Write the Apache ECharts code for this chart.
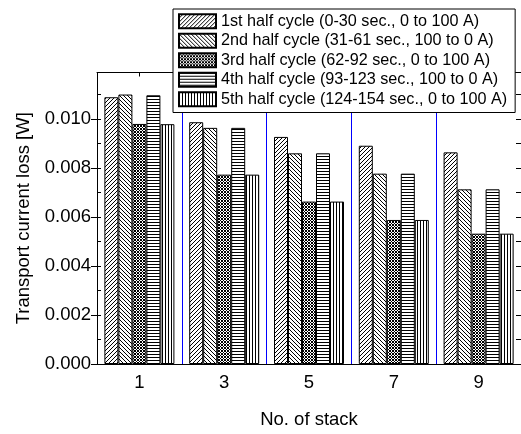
<!DOCTYPE html>
<html>
<head>
<meta charset="utf-8">
<script src="https://cdn.jsdelivr.net/npm/echarts@6/dist/echarts.min.js"></script>
<style>
html,body{margin:0;padding:0;background:#fff;}
#c{width:521px;height:434px;}
</style>
</head>
<body>
<div id="c"></div>
<script>
// ---- data ----
var categories = ['1', '3', '5', '7', '9'];
var seriesNames = [
  '1st half cycle (0-30 sec., 0 to 100 A)',
  '2nd half cycle (31-61 sec., 100 to 0 A)',
  '3rd half cycle (62-92 sec., 0 to 100 A)',
  '4th half cycle (93-123 sec., 100 to 0 A)',
  '5th half cycle (124-154 sec., 0 to 100 A)'
];
var half1 = [0.01089, 0.00987, 0.00927, 0.00891, 0.00864];
var half2 = [0.01100, 0.00964, 0.00860, 0.00777, 0.00713];
var half3 = [0.00980, 0.00773, 0.00663, 0.00588, 0.00532];
var half4 = [0.01097, 0.00964, 0.00860, 0.00777, 0.00713];
var half5 = [0.00979, 0.00773, 0.00663, 0.00588, 0.00532];
var yTicks = [0, 0.002, 0.004, 0.006, 0.008, 0.010];

// ---- hatch patterns ----
function tile(w, h, pts) {
  var c = document.createElement('canvas');
  c.width = w; c.height = h;
  var g = c.getContext('2d');
  g.fillStyle = '#fff'; g.fillRect(0, 0, w, h);
  g.fillStyle = '#000';
  pts.forEach(function (p) { g.fillRect(p[0], p[1], 1, 1); });
  return c;
}
var patFwd = tile(4, 4, [[0,3],[1,2],[2,1],[3,0]]);
var patBack = tile(4, 4, [[0,0],[1,1],[2,2],[3,3]]);
var patCross = tile(3, 3, [[0,0],[1,1],[2,2],[0,2],[2,0]]);
var patHor = tile(1, 3, [[0,0]]);
var patVer = tile(3, 1, [[0,0]]);
var patterns = [patFwd, patBack, patCross, patHor, patVer];
var data = [half1, half2, half3, half4, half5];

var FONT = 'Liberation Sans, Arial, sans-serif';
var chart = echarts.init(document.getElementById('c'), null, {renderer: 'canvas'});

var series = data.map(function (d, i) {
  return {
    name: seriesNames[i], type: 'bar', data: d, barWidth: 14, barGap: '0%',
    itemStyle: {color: {image: patterns[i], repeat: 'repeat'}, borderColor: '#000', borderWidth: 1}
  };
});

var yMin = 0, yMax = 0.0119;
chart.setOption({
  animation: false,
  backgroundColor: '#fff',
  grid: {left: 97, right: -2, top: 72.5, bottom: 64, containLabel: false},
  legend: {
    orient: 'vertical', left: 173, top: 9, padding: [4, 8, 5, 5],
    backgroundColor: '#fff', borderColor: '#000', borderWidth: 1, borderRadius: 0,
    itemWidth: 37, itemHeight: 14, itemGap: 3, icon: 'rect',
    textStyle: {fontFamily: FONT, fontSize: 16.2, color: '#000', lineHeight: 16.5},
    data: seriesNames
  },
  xAxis: [{
    type: 'category', data: categories, position: 'bottom',
    axisLine: {onZero: false, lineStyle: {color: '#000', width: 1}},
    axisTick: {show: false},
    splitLine: {show: true, lineStyle: {color: '#0000ff', width: 1}},
    axisLabel: {fontFamily: FONT, fontSize: 18.5, color: '#000', margin: 9},
    name: 'No. of stack', nameLocation: 'middle', nameGap: 46,
    nameTextStyle: {fontFamily: FONT, fontSize: 18.5, color: '#000'}
  }, {
    type: 'category', data: categories, position: 'top',
    axisLine: {show: true, onZero: false, lineStyle: {color: '#000', width: 1}},
    axisTick: {show: true, inside: true, alignWithLabel: true, length: 4, lineStyle: {color: '#000'}},
    axisLabel: {show: false}, splitLine: {show: false}
  }],
  yAxis: [{
    type: 'value', min: yMin, max: yMax, interval: 0.002, position: 'left',
    axisLine: {show: true, onZero: false, lineStyle: {color: '#000', width: 1}},
    axisTick: {show: true, inside: false, length: 6, lineStyle: {color: '#000'}},
    splitLine: {show: false},
    axisLabel: {fontFamily: FONT, fontSize: 18.5, color: '#000', margin: 6, showMaxLabel: false,
      formatter: function (v) {
        for (var k = 0; k < yTicks.length; k++) if (Math.abs(v - yTicks[k]) < 1e-9) return yTicks[k].toFixed(3);
        return '';
      }},
    name: 'Transport current loss [W]', nameLocation: 'middle', nameGap: 62,
    nameTextStyle: {fontFamily: FONT, fontSize: 18.5, color: '#000'}
  }, {
    type: 'value', min: yMin, max: yMax, interval: 0.001, position: 'left',
    axisLine: {show: false, onZero: false},
    axisTick: {show: true, inside: true, length: 4, lineStyle: {color: '#000'}},
    axisLabel: {show: false}, splitLine: {show: false}
  }, {
    type: 'value', min: yMin, max: yMax, interval: 0.001, position: 'right',
    axisLine: {show: true, onZero: false, lineStyle: {color: '#000', width: 1}},
    axisTick: {show: true, inside: true, length: 5, lineStyle: {color: '#000'}},
    axisLabel: {show: false}, splitLine: {show: false}
  }],
  series: series
});
</script>
</body>
</html>
